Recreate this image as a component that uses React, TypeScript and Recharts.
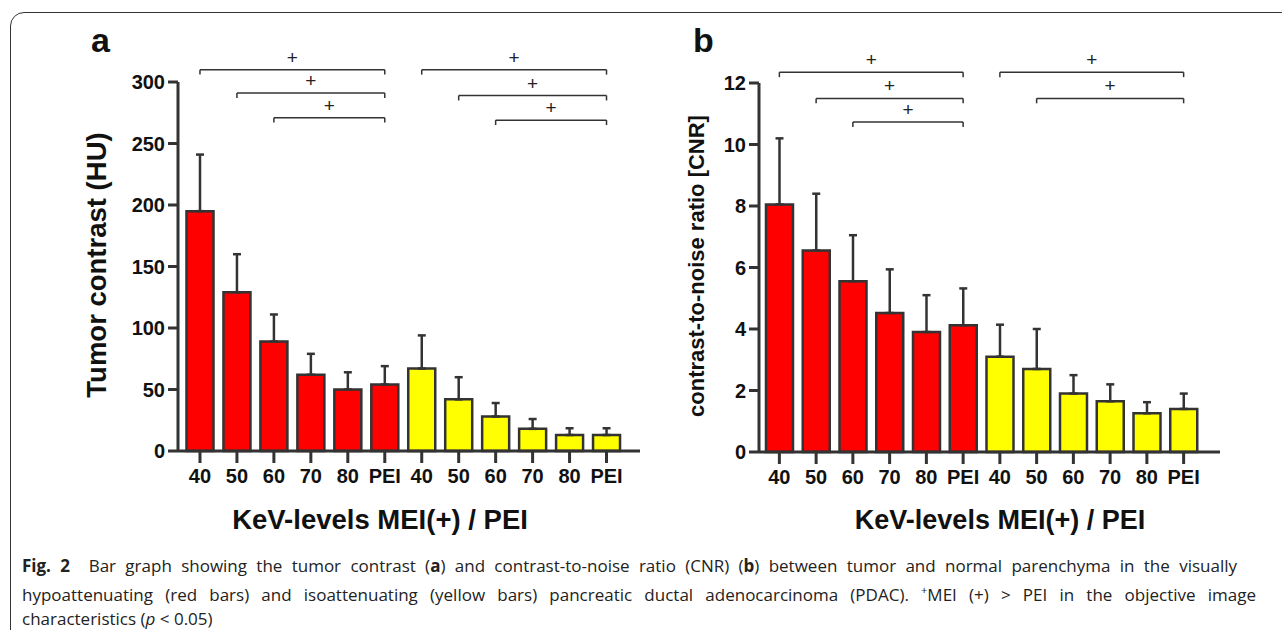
import React from "react";
import { BarChart, Bar, XAxis, YAxis, ErrorBar, Cell, ReferenceLine } from "recharts";

const kevLevels = ["40", "50", "60", "70", "80", "PEI"];

// panel a: tumor contrast (HU), mean + upper SD
const hypoContrast = [195, 129, 89, 62, 50, 54];
const hypoContrastSd = [46, 31, 22, 17, 14, 15];
const isoContrast = [67, 42, 28, 18, 13, 13];
const isoContrastSd = [27, 18, 11, 8, 5.5, 5.5];

// panel b: contrast-to-noise ratio
const hypoCnr = [8.05, 6.55, 5.55, 4.52, 3.9, 4.12];
const hypoCnrSd = [2.15, 1.85, 1.5, 1.42, 1.2, 1.2];
const isoCnr = [3.1, 2.7, 1.9, 1.65, 1.26, 1.4];
const isoCnrSd = [1.04, 1.3, 0.6, 0.55, 0.36, 0.5];

const contrastTicks = [0, 50, 100, 150, 200, 250, 300];
const cnrTicks = [0, 2, 4, 6, 8, 10, 12];

// "+" brackets: from, to, level
const contrastBrackets: [string, string, number][] = [
  ["hypo-40", "hypo-PEI", 310],
  ["hypo-50", "hypo-PEI", 291],
  ["hypo-60", "hypo-PEI", 271],
  ["iso-40", "iso-PEI", 310],
  ["iso-50", "iso-PEI", 289],
  ["iso-60", "iso-PEI", 269],
];
const cnrBrackets: [string, string, number][] = [
  ["hypo-40", "hypo-PEI", 12.35],
  ["hypo-50", "hypo-PEI", 11.5],
  ["hypo-60", "hypo-PEI", 10.73],
  ["iso-40", "iso-PEI", 12.35],
  ["iso-50", "iso-PEI", 11.5],
];

const groupColor = { hypo: "#ff0000", iso: "#ffff00" };
const ink = "#333";

const buildRows = (hypo, hypoSd, iso, isoSd) => [
  ...kevLevels.map((k, i) => ({ key: `hypo-${k}`, group: "hypo", value: hypo[i], err: [0, hypoSd[i]] })),
  ...kevLevels.map((k, i) => ({ key: `iso-${k}`, group: "iso", value: iso[i], err: [0, isoSd[i]] })),
];

const contrastRows = buildRows(hypoContrast, hypoContrastSd, isoContrast, isoContrastSd);
const cnrRows = buildRows(hypoCnr, hypoCnrSd, isoCnr, isoCnrSd);

const tickStyle = { fill: "#111", fontSize: 20, fontWeight: 700 };

const renderBrackets = (brackets, drop) =>
  brackets.flatMap(([from, to, y], i) => [
    <ReferenceLine
      key={`h${i}`}
      segment={[{ x: from, y }, { x: to, y }]}
      ifOverflow="visible"
      stroke={ink}
      strokeWidth={1.5}
      label={{ value: "+", position: "top", fill: "#222", fontSize: 19, offset: 6 }}
    />,
    <ReferenceLine key={`l${i}`} segment={[{ x: from, y }, { x: from, y: y - drop }]} ifOverflow="visible" stroke={ink} strokeWidth={1.5} />,
    <ReferenceLine key={`r${i}`} segment={[{ x: to, y }, { x: to, y: y - drop }]} ifOverflow="visible" stroke={ink} strokeWidth={1.5} />,
  ]);

const Panel = ({ rows, ticks, brackets, drop, margin, width, padding }) => (
  <BarChart width={width} height={520} data={rows} margin={margin}>
    <XAxis
      dataKey="key"
      tickFormatter={(k) => k.split("-")[1]}
      tick={tickStyle}
      tickSize={12}
      tickMargin={6}
      height={60}
      interval={0}
      padding={padding}
      axisLine={{ stroke: ink, strokeWidth: 3 }}
      tickLine={{ stroke: ink, strokeWidth: 3 }}
    />
    <YAxis
      domain={[ticks[0], ticks[ticks.length - 1]]}
      ticks={ticks}
      width={60}
      tick={tickStyle}
      tickSize={10}
      tickMargin={3}
      axisLine={{ stroke: ink, strokeWidth: 3 }}
      tickLine={{ stroke: ink, strokeWidth: 3 }}
    />
    <Bar dataKey="value" barSize={27} stroke={ink} strokeWidth={2.5} isAnimationActive={false}>
      {rows.map((r) => (
        <Cell key={r.key} fill={groupColor[r.group]} />
      ))}
      <ErrorBar dataKey="err" direction="y" width={4} stroke={ink} strokeWidth={2.5} />
    </Bar>
    {renderBrackets(brackets, drop)}
  </BarChart>
);

const abs = (left, top) => ({ position: "absolute" as const, left, top });

const App = () => (
  <div
    style={{
      position: "fixed",
      left: 0,
      top: 0,
      width: 1282,
      height: 630,
      overflow: "hidden",
      background: "#fff",
      fontFamily: "'Liberation Sans', Arial, sans-serif",
      color: "#111",
    }}
  >
    <div
      style={{
        ...abs(10, 12),
        width: 1300,
        height: 660,
        border: "1.5px solid #333",
        borderRadius: 14,
        boxSizing: "border-box",
      }}
    />

    <div style={{ ...abs(0, 0) }}>
      <Panel
        rows={contrastRows}
        ticks={contrastTicks}
        brackets={contrastBrackets}
        drop={4}
        width={660}
        margin={{ top: 82, right: 20, left: 118, bottom: 9 }}
        padding={{ left: 3.5, right: 15 }}
      />
    </div>
    <div style={{ ...abs(640, 0) }}>
      <Panel
        rows={cnrRows}
        ticks={cnrTicks}
        brackets={cnrBrackets}
        drop={0.16}
        width={600}
        margin={{ top: 83, right: 20, left: 59, bottom: 8 }}
        padding={{ left: 2, right: 18 }}
      />
    </div>

    <div style={{ ...abs(91, 21), fontSize: 34, fontWeight: 700 }}>a</div>
    <div style={{ ...abs(693, 21), fontSize: 34, fontWeight: 700 }}>b</div>

    <div
      style={{
        ...abs(97, 265),
        transform: "translate(-50%, -50%) rotate(-90deg)",
        fontSize: 27.5,
        fontWeight: 700,
        whiteSpace: "nowrap",
      }}
    >
      Tumor contrast (HU)
    </div>
    <div
      style={{
        ...abs(697, 266),
        transform: "translate(-50%, -50%) rotate(-90deg)",
        fontSize: 22,
        fontWeight: 700,
        whiteSpace: "nowrap",
      }}
    >
      contrast-to-noise ratio [CNR]
    </div>
    <div style={{ ...abs(380, 520), transform: "translate(-50%, -50%)", fontSize: 27.5, fontWeight: 700, whiteSpace: "nowrap" }}>
      KeV-levels MEI(+) / PEI
    </div>
    <div style={{ ...abs(1000, 520), transform: "translate(-50%, -50%)", fontSize: 27, fontWeight: 700, whiteSpace: "nowrap" }}>
      KeV-levels MEI(+) / PEI
    </div>

    <div
      style={{
        ...abs(22, 554),
        fontFamily: "'Open Sans', 'Noto Sans', sans-serif",
        fontSize: 17,
        lineHeight: "24px",
        color: "#222",
        whiteSpace: "nowrap",
      }}
    >
      <div style={{ width: 1215, textAlign: "justify", textAlignLast: "justify" }}>
        <b>Fig. 2</b>&nbsp; Bar graph showing the tumor contrast (<b>a</b>) and contrast-to-noise ratio (CNR) (<b>b</b>) between tumor and
        normal parenchyma in the visually
      </div>
      <div style={{ width: 1234, textAlign: "justify", textAlignLast: "justify" }}>
        hypoattenuating (red bars) and isoattenuating (yellow bars) pancreatic ductal adenocarcinoma (PDAC). <sup style={{ fontSize: 11 }}>+</sup>MEI (+)
        &gt; PEI in the objective image
      </div>
      <div>
        characteristics (<i>p</i> &lt; 0.05)
      </div>
    </div>
  </div>
);

export default App;
